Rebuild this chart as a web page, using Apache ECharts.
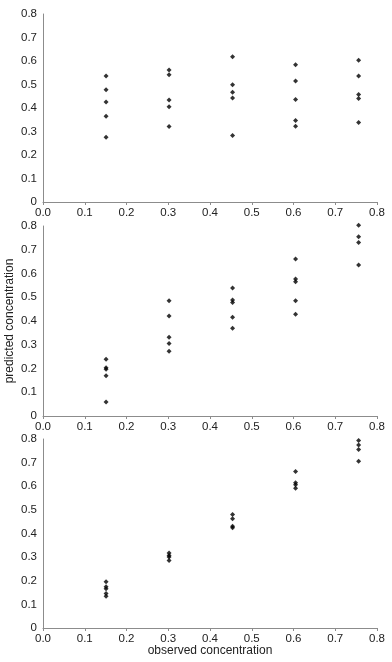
<!DOCTYPE html>
<html>
<head>
<meta charset="utf-8">
<script src="https://cdn.jsdelivr.net/npm/echarts@6/dist/echarts.min.js"></script>
<style>html,body{margin:0;padding:0;background:#fff;}#c{width:392px;height:662px;}</style>
</head>
<body>
<div id="c"></div>
<script>
// observed concentration levels (x)
var observed = [0.151, 0.302, 0.454, 0.605, 0.756];
// predicted concentrations per observed level, panel 1 (top)
var panel1 = [
  [0.536, 0.478, 0.426, 0.365, 0.276],
  [0.562, 0.542, 0.434, 0.405, 0.321],
  [0.618, 0.499, 0.467, 0.443, 0.283],
  [0.584, 0.515, 0.436, 0.347, 0.322],
  [0.603, 0.536, 0.457, 0.440, 0.338]
];
// panel 2 (middle)
var panel2 = [
  [0.239, 0.203, 0.197, 0.170, 0.059],
  [0.485, 0.421, 0.332, 0.305, 0.273],
  [0.539, 0.488, 0.478, 0.416, 0.370],
  [0.661, 0.577, 0.565, 0.485, 0.428],
  [0.803, 0.755, 0.731, 0.636]
];
// panel 3 (bottom)
var panel3 = [
  [0.196, 0.175, 0.166, 0.146, 0.134],
  [0.317, 0.307, 0.301, 0.286],
  [0.480, 0.462, 0.431, 0.424],
  [0.662, 0.615, 0.606, 0.592],
  [0.794, 0.775, 0.756, 0.706]
];
var xTicks = ['0.0','0.1','0.2','0.3','0.4','0.5','0.6','0.7','0.8'];
var yTicks = ['0','0.1','0.2','0.3','0.4','0.5','0.6','0.7','0.8'];
var xTitle = 'observed concentration';
var yTitle = 'predicted concentration';

function toPoints(panel){
  var pts = [];
  panel.forEach(function(vals, i){ vals.forEach(function(v){ pts.push([observed[i], v]); }); });
  return pts;
}
var panels = [panel1, panel2, panel3];
var grids = [
  {left:43, width:334, top:14, height:188, containLabel:false, outerBoundsMode:'none'},
  {left:43, width:334, top:226, height:190, containLabel:false, outerBoundsMode:'none'},
  {left:43, width:334, top:439, height:189, containLabel:false, outerBoundsMode:'none'}
];
var font = '"Liberation Sans", Arial, sans-serif';
var axisCol = '#8c8c8c';
var xAxes = [], yAxes = [], series = [];
panels.forEach(function(p, k){
  xAxes.push({
    gridIndex:k, type:'value', min:0, max:0.8, interval:0.1,
    axisLine:{show:true, lineStyle:{color:axisCol, width:1}},
    axisTick:{show:true, length:3, lineStyle:{color:axisCol}},
    splitLine:{show:false},
    axisLabel:{color:'#222', fontSize:11.5, fontFamily:font, margin:5,
      formatter:function(v){ return xTicks[Math.round(v*10)]; }},
    name: k===2 ? xTitle : '', nameLocation:'middle', nameGap:17, nameMoveOverlap:false,
    nameTextStyle:{color:'#222', fontSize:12, fontFamily:font}
  });
  yAxes.push({
    gridIndex:k, type:'value', min:0, max:0.8, interval:0.1,
    axisLine:{show:true, lineStyle:{color:axisCol, width:1}},
    axisTick:{show:false},
    splitLine:{show:false},
    axisLabel:{color:'#222', fontSize:11.5, fontFamily:font, margin:6,
      formatter:function(v){ return yTicks[Math.round(v*10)]; }},
    name: k===1 ? yTitle : '', nameLocation:'middle', nameGap:27, nameRotate:90, nameMoveOverlap:false,
    nameTextStyle:{color:'#222', fontSize:12, fontFamily:font}
  });
  series.push({
    type:'scatter', xAxisIndex:k, yAxisIndex:k, data:toPoints(p), clip:false,
    symbol:'diamond', symbolSize:5, itemStyle:{color:'#000'}, silent:true
  });
});
var chart = echarts.init(document.getElementById('c'), null, {renderer:'canvas'});
chart.setOption({
  animation:false, backgroundColor:'#fff',
  grid:grids, xAxis:xAxes, yAxis:yAxes, series:series
});
</script>
</body>
</html>
